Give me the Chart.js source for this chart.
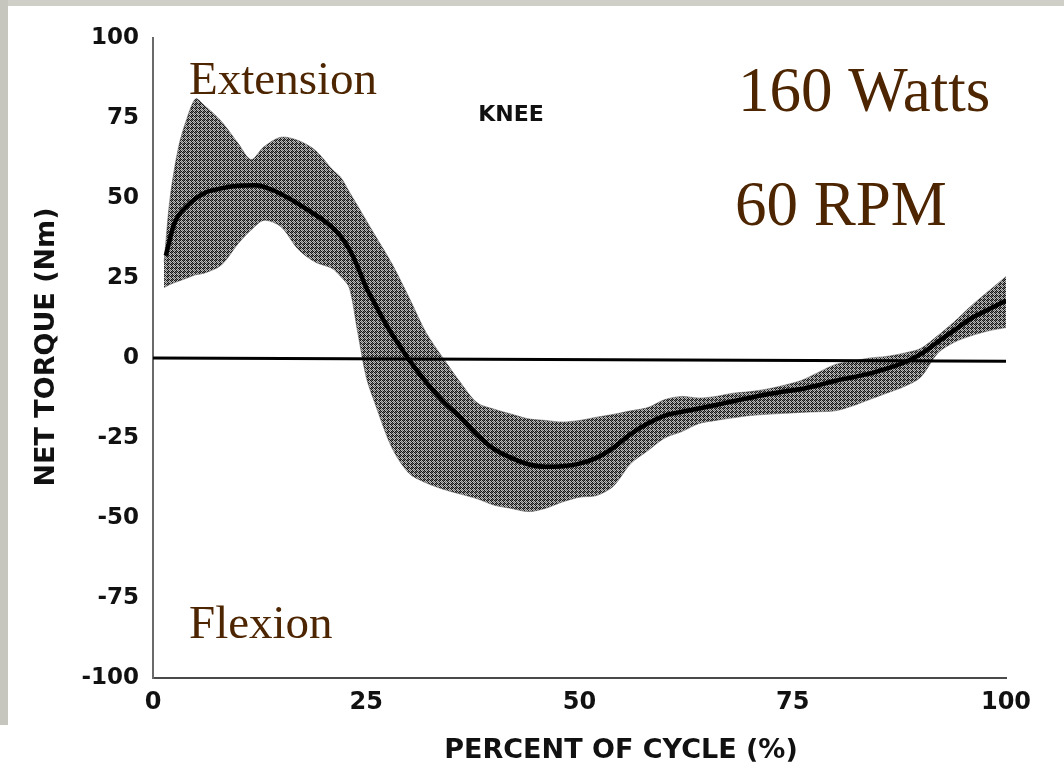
<!DOCTYPE html>
<html>
<head>
<meta charset="utf-8">
<script src="https://cdn.jsdelivr.net/npm/chart.js@4.4.1/dist/chart.umd.min.js"></script>
<style>
  html, body { margin: 0; padding: 0; background: #fff; }
  #wrap { position: relative; width: 1064px; height: 771px; }
  .strip-top { position: absolute; left: 0; top: 0; width: 1064px; height: 6px; background: #cfcfc7; }
  .strip-left { position: absolute; left: 0; top: 0; width: 8px; height: 725px; background: #c6c6be; }
  canvas { position: absolute; left: 0; top: 0; }
</style>
</head>
<body>
<div id="wrap">
  <canvas id="chart" width="1064" height="771"></canvas>
  <div class="strip-top"></div>
  <div class="strip-left"></div>
</div>
<script>
// percent of cycle for the shaded band
const bandX = [1.3, 2, 3, 4, 5, 6, 8, 10, 11.5, 13, 15, 17, 19, 21, 22, 23, 24, 25, 26, 28,
  30, 32, 34, 36, 38, 40, 42, 44, 46, 48, 50, 52, 54, 56, 58, 60, 62, 64, 66, 68,
  70, 72, 74, 76, 78, 80, 82, 84, 86, 88, 90, 92, 94, 96, 98, 100];
const bandUpper = [30, 50, 66, 75, 81, 79, 74, 67, 62, 66, 69, 68, 65, 59, 56.5, 52, 47.5, 43, 38.5, 29.5,
  19, 8, 0, -7.5, -14, -16, -17.5, -19, -19.5, -20, -19.5, -18.5, -17.6, -16.5, -15.5, -13, -12, -12.5, -12, -11,
  -10.5, -9.7, -8.5, -7, -4.5, -2, -1, 0, 0.5, 1.5, 3, 7, 11.5, 16.5, 21, 25.5];
const bandLower = [22, 23, 24, 25, 26, 26.5, 29, 35.8, 40, 43, 41, 34, 30, 28, 25.5, 22, 8, -6, -14, -28,
  -36, -39, -41, -42.5, -44, -46, -47, -48, -47, -45, -43.5, -43, -40, -33, -29, -25, -23, -20.5, -19.5, -18.7,
  -18, -17.6, -17.3, -17, -16.8, -16.5, -15, -13, -11, -9, -6, 1.5, 5, 7, 8.5, 9.5];

// mean knee torque
const meanX = [1.5, 2.5, 4, 6, 8, 10, 12, 14, 16, 18, 20, 21, 22, 23, 24, 25, 26, 27, 28, 29,
  30, 32, 34, 36, 38, 40, 42, 44, 46, 48, 50, 52, 54, 56, 58, 60, 62, 64, 66, 68,
  70, 72, 74, 76, 78, 80, 82, 84, 86, 88, 90, 92, 94, 96, 98, 100];
const meanTorque = [32, 42, 47.5, 51.5, 53, 53.8, 54, 52.5, 49.8, 46.5, 43, 40.8, 38, 34, 28.5, 22, 17, 12, 7.5, 3.5,
  -0.5, -7.5, -13.5, -18.5, -24, -28.5, -31.2, -33.2, -34, -33.8, -33, -31.2, -28, -23.8, -20.5, -18, -16.8, -15.8, -14.7, -13.5,
  -12.4, -11.3, -10.5, -9.7, -8.5, -7.1, -6, -4.9, -3.3, -1.5, 1.2, 5, 8.8, 12.5, 15.2, 18];

const zeroX = [0, 100];
const zeroTorque = [0, -1];

const yTicks = [100, 75, 50, 25, 0, -25, -50, -75, -100];
const xTicks = [0, 25, 50, 75, 100];

function pts(xs, ys) {
  return xs.map((x, i) => ({ x: x, y: ys[i] }));
}

// halftone look of the scanned band
function makePattern() {
  const p = document.createElement("canvas");
  p.width = 4;
  p.height = 4;
  const pc = p.getContext("2d");
  const D = "#141414", M = "#6a6a6a", L = "#bdbdbd";
  const grid = [
    [D, L, D, M],
    [L, M, L, D],
    [D, L, M, L],
    [M, D, L, D],
  ];
  for (let r = 0; r < 4; r++) {
    for (let c = 0; c < 4; c++) {
      pc.fillStyle = grid[r][c];
      pc.fillRect(c, r, 1, 1);
    }
  }
  return pc.createPattern(p, "repeat");
}

const textPlugin = {
  id: "textPlugin",
  afterDraw(chart) {
    const c = chart.ctx;
    c.save();
    c.fillStyle = "#4d2500";
    c.textAlign = "left";
    c.textBaseline = "alphabetic";
    c.font = '47px "Liberation Serif"';
    c.fillText("Extension", 189, 94);
    c.fillText("Flexion", 189, 638);
    c.font = '63px "Liberation Serif"';
    c.fillText("160 Watts", 738, 111);
    c.fillText("60 RPM", 735, 225);

    c.fillStyle = "#111";
    c.textAlign = "center";
    c.font = 'bold 22px "DejaVu Sans"';
    c.fillText("KNEE", 511, 121);

    c.font = 'bold 27px "DejaVu Sans"';
    c.textBaseline = "middle";
    c.fillText("PERCENT OF CYCLE (%)", 621, 751);
    c.translate(47, 347);
    c.rotate(-Math.PI / 2);
    c.fillText("NET TORQUE (Nm)", 0, 0);
    c.restore();
  },
};

const ctx = document.getElementById("chart");

const chart = new Chart(ctx, {
  type: "line",
  plugins: [textPlugin],
  data: {
    datasets: [
      {
        label: "mean",
        data: pts(meanX, meanTorque),
        borderColor: "#000",
        borderWidth: 4.5,
        pointRadius: 0,
        cubicInterpolationMode: "monotone",
        fill: false,
      },
      {
        label: "zero",
        data: pts(zeroX, zeroTorque),
        borderColor: "#000",
        borderWidth: 3,
        pointRadius: 0,
        fill: false,
      },
      {
        label: "upper",
        data: pts(bandX, bandUpper),
        borderColor: "rgba(90,90,90,0.5)",
        borderWidth: 1,
        pointRadius: 0,
        tension: 0.3,
        fill: false,
      },
      {
        label: "lower",
        data: pts(bandX, bandLower),
        borderColor: "rgba(90,90,90,0.5)",
        borderWidth: 1,
        pointRadius: 0,
        tension: 0.3,
        fill: "-1",
        backgroundColor: makePattern(),
      },
    ],
  },
  options: {
    responsive: false,
    animation: false,
    layout: {
      padding: { top: 38, right: 58, left: 0, bottom: 0 },
    },
    plugins: {
      legend: { display: false },
      tooltip: { enabled: false },
      title: { display: false },
    },
    scales: {
      x: {
        type: "linear",
        min: 0,
        max: 100,
        afterBuildTicks: (s) => {
          s.ticks = xTicks.map((v) => ({ value: v }));
        },
        afterFit: (s) => {
          s.height = 93;
        },
        grid: { display: false, drawTicks: false },
        border: { display: true, color: "#4a4a4a", width: 2 },
        ticks: {
          color: "#111",
          padding: 10,
          maxRotation: 0,
          font: { family: "DejaVu Sans", size: 24, weight: "bold" },
        },
      },
      y: {
        min: -100,
        max: 100,
        afterBuildTicks: (s) => {
          s.ticks = yTicks.map((v) => ({ value: v }));
        },
        afterFit: (s) => {
          s.width = 153;
        },
        grid: { display: false, drawTicks: false },
        border: { display: true, color: "#6a6a6a", width: 2 },
        ticks: {
          color: "#111",
          padding: 14,
          font: { family: "DejaVu Sans", size: 23, weight: "bold" },
        },
      },
    },
  },
});
</script>
</body>
</html>
